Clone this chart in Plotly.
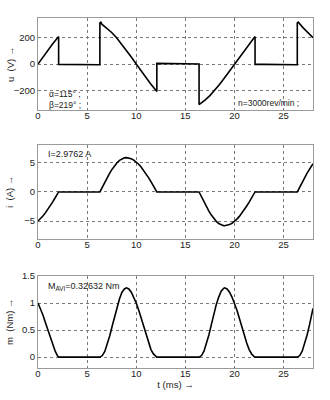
import plotly.graph_objects as go
from plotly.subplots import make_subplots

# ---- data ----
t_u = [0, 0.5, 1.0, 1.5, 2.0, 2.1, 2.1, 3.0, 4.0, 5.0, 6.0, 6.3,
       6.3, 6.4, 6.5, 7.0, 7.5, 8.0, 8.5, 9.0, 9.5, 10.0, 10.5, 11.0, 11.5, 12.0, 12.1,
       12.1, 13.0, 14.0, 15.0, 16.0, 16.4,
       16.4, 16.5, 17.0, 17.5, 18.0, 18.5, 19.0, 19.5, 20.0, 20.5, 21.0, 21.5, 22.0, 22.1,
       22.1, 23.0, 24.0, 25.0, 26.0, 26.4,
       26.4, 26.5, 27.0, 27.5, 28.0]
u_vals = [0, 53, 105, 154, 200, 208, -3, -3, -4, -3, -2, -5,
          312, 318, 303, 275, 240, 200, 154, 105, 53, 0, -53, -105, -154, -200, -208,
          5, 4, 3, 3, 2, 0,
          -308, -303, -275, -240, -200, -154, -105, -53, 0, 53, 105, 154, 200, 208,
          -3, -3, -4, -3, -2, -5,
          312, 318, 275, 240, 200]

t_im = [0, 0.25, 0.5, 0.75, 1.0, 1.25, 1.5, 1.75, 2.0, 2.1,
        6.3, 6.55, 6.8, 7.05, 7.3, 7.55, 7.8, 8.05, 8.3, 8.55, 8.8, 9.0, 9.25, 9.5, 9.75,
        10.0, 10.25, 10.5, 10.75, 11.0, 11.25, 11.5, 11.75, 12.0, 12.1,
        16.4, 16.65, 16.9, 17.15, 17.4, 17.65, 17.9, 18.15, 18.4, 18.65, 18.9, 19.0, 19.25,
        19.5, 19.75, 20.0, 20.25, 20.5, 20.75, 21.0, 21.25, 21.5, 21.75, 22.0, 22.1,
        26.4, 26.65, 26.9, 27.15, 27.4, 27.65, 27.9, 28.0]
i_vals = [-5.0, -4.6, -4.13, -3.6, -3.02, -2.38, -1.71, -1.0, -0.28, 0,
          0, 0.86, 1.69, 2.49, 3.24, 3.92, 4.52, 5.02, 5.42, 5.70, 5.86, 5.9, 5.85, 5.71, 5.48,
          5.16, 4.76, 4.28, 3.73, 3.12, 2.46, 1.77, 1.04, 0.30, 0,
          0, -0.87, -1.73, -2.54, -3.29, -3.97, -4.56, -5.05, -5.42, -5.67, -5.79, -5.8, -5.75,
          -5.61, -5.39, -5.07, -4.67, -4.20, -3.67, -3.07, -2.42, -1.74, -1.02, -0.29, 0,
          0, 0.86, 1.69, 2.49, 3.24, 3.92, 4.52, 4.85]
m_vals = [1.0, 0.9, 0.78, 0.64, 0.5, 0.36, 0.23, 0.11, 0.02, 0,
          0, 0.03, 0.105, 0.23, 0.39, 0.57, 0.75, 0.93, 1.08, 1.20, 1.26, 1.28, 1.26, 1.20, 1.11,
          1.0, 0.87, 0.72, 0.56, 0.40, 0.26, 0.14, 0.06, 0.01, 0,
          0, 0.03, 0.11, 0.24, 0.41, 0.6, 0.79, 0.97, 1.11, 1.22, 1.27, 1.28, 1.26,
          1.20, 1.11, 1.0, 0.87, 0.72, 0.56, 0.40, 0.26, 0.14, 0.06, 0.01, 0,
          0, 0.03, 0.11, 0.24, 0.41, 0.6, 0.79, 0.9]

x_ticks = [0, 5, 10, 15, 20, 25]
u_ticks = [-200, 0, 200]
i_ticks = [-5, 0, 5]
m_ticks = [0, 0.5, 1, 1.5]

FONT = "Liberation Sans, Arial, sans-serif"

fig = make_subplots(rows=3, cols=1)
fig.add_trace(go.Scatter(x=t_u, y=u_vals, mode="lines",
                         line=dict(color="black", width=1.6)), row=1, col=1)
fig.add_trace(go.Scatter(x=t_im, y=i_vals, mode="lines",
                         line=dict(color="black", width=1.6)), row=2, col=1)
fig.add_trace(go.Scatter(x=t_im, y=m_vals, mode="lines",
                         line=dict(color="black", width=1.6)), row=3, col=1)

ax_common = dict(showline=True, mirror=True, linecolor="#9a9a9a", linewidth=1,
                 showgrid=True, gridcolor="#7a7a7a", griddash="dot", gridwidth=1,
                 zeroline=False, ticks="", tickfont=dict(size=9.5, color="#222", family=FONT))

for r in (1, 2, 3):
    fig.update_xaxes(range=[0, 28], tickvals=x_ticks, ticklabelstandoff=-3,
                     **ax_common, row=r, col=1)
fig.update_yaxes(range=[-350, 350], tickvals=u_ticks, **ax_common, row=1, col=1)
fig.update_yaxes(range=[-8, 8], tickvals=i_ticks, **ax_common, row=2, col=1)
fig.update_yaxes(range=[-0.2, 1.5], tickvals=m_ticks, **ax_common, row=3, col=1)

fig.update_layout(
    yaxis=dict(domain=[0.737, 1.0]),
    yaxis2=dict(domain=[0.370, 0.636]),
    yaxis3=dict(domain=[0.0, 0.263]),
)
fig.update_xaxes(title=dict(text="t (ms) \u2192", font=dict(size=9.5, family=FONT, color="#222"),
                            standoff=2), row=3, col=1)

ann = []
def ylab(text, ymid):
    ann.append(dict(text=text, xref="paper", yref="paper", x=-0.102, y=ymid,
                    textangle=-90, showarrow=False, xanchor="center", yanchor="middle",
                    font=dict(size=9.5, family=FONT, color="#222")))
ylab("u  (V) \u2192", (0.737 + 1.0) / 2)
ylab("i  (A) \u2192", (0.370 + 0.636) / 2)
ylab("m  (Nm) \u2192", 0.263 / 2)

def note(text, x, y, xref, yref, xanchor="left", size=9):
    ann.append(dict(text=text, x=x, y=y, xref=xref, yref=yref, showarrow=False,
                    xanchor=xanchor, yanchor="middle", align="left",
                    font=dict(size=size, family=FONT, color="#222")))
note("\u03b1=115\u00b0 ;", 0.9, -228, "x", "y", size=8.5)
note("\u03b2=219\u00b0 ;", 0.9, -310, "x", "y", size=8.5)
note("n=3000rev/min ;", 26.8, -295, "x", "y", xanchor="right", size=8.5)
note("I=2.9762 A", 0.8, 6.6, "x2", "y2")
note("M<sub>AVI</sub>=0.32632 Nm", 0.8, 1.3, "x3", "y3")

fig.update_layout(
    width=330, height=400,
    margin=dict(l=38, r=17, t=12, b=31),
    paper_bgcolor="white", plot_bgcolor="white",
    showlegend=False,
    annotations=ann,
    font=dict(family=FONT),
)

fig.write_html("out.html")
